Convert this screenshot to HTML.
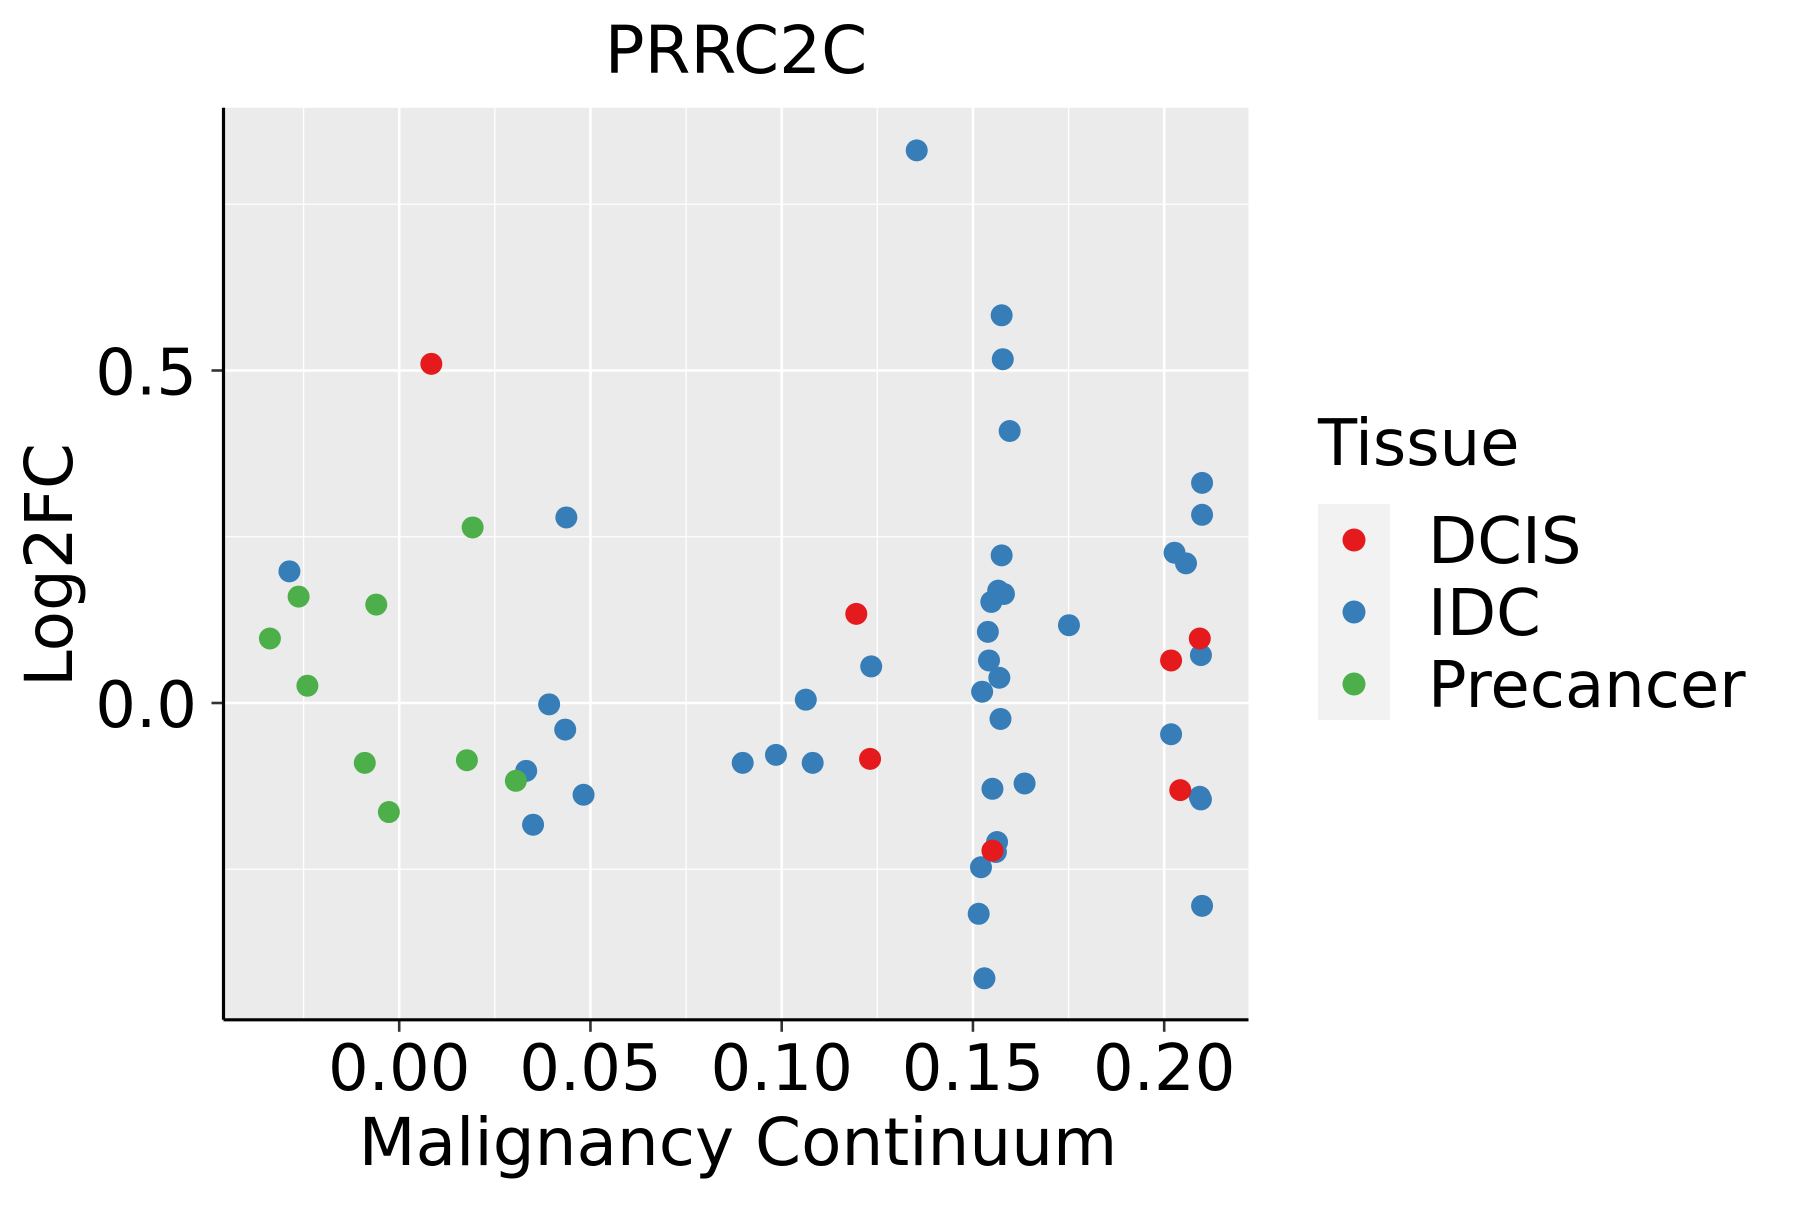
<!DOCTYPE html>
<html><head><meta charset="utf-8"><style>
body{margin:0;background:#fff}
svg text{font-family:"DejaVu Sans","Liberation Sans",sans-serif;fill:#000}
</style></head><body>
<svg id="chart" width="1800" height="1200" xmlns="http://www.w3.org/2000/svg">
<text x="736" y="73" font-size="66" text-anchor="middle">PRRC2C</text>
<rect x="223.5" y="107.8" width="1025" height="912" fill="#ebebeb"/>
<g id="grid"></g>
<g id="points"></g>
<g id="axes"></g>
<text x="738" y="1165" font-size="66" text-anchor="middle">Malignancy Continuum</text>
<text transform="translate(72,565) rotate(-90)" font-size="66" text-anchor="middle">Log2FC</text>
<g>
<text x="1318" y="465" font-size="64">Tissue</text>
<rect x="1318" y="504" width="72" height="216" fill="#f2f2f2"/>
<g><circle cx="1354" cy="540" r="11.5" fill="#e41a1c"/><text x="1428" y="563" font-size="64">DCIS</text></g>
<g><circle cx="1354" cy="612" r="11.5" fill="#377eb8"/><text x="1428" y="635" font-size="64">IDC</text></g>
<g><circle cx="1354" cy="684" r="11.5" fill="#4daf4a"/><text x="1428" y="707" font-size="64">Precancer</text></g>
</g>
</svg>
<script>
const xTicks=[0,0.05,0.10,0.15,0.20];
const xTickLabels=["0.00","0.05","0.10","0.15","0.20"];
const xMinor=[-0.025,0.025,0.075,0.125,0.175];
const yTicks=[0,0.5];
const yTickLabels=["0.0","0.5"];
const yMinor=[-0.25,0.25,0.75];
const idcX=[0.1353,0.1575,0.1578,0.1596,0.2099,0.2099,0.0437,0.1575,0.2027,0.2057,-0.0287,0.1566,0.1581,0.1548,0.1751,0.1539,0.1234,0.1542,0.2096,0.1569,0.1524,0.1063,0.0392,0.1572,0.0434,0.2018,0.0985,0.0898,0.1081,0.0332,0.1635,0.1551,0.0482,0.2096,0.2093,0.0350,0.1563,0.1560,0.1521,0.1515,0.2099,0.1530];
const idcY=[0.831,0.583,0.517,0.409,0.331,0.283,0.279,0.222,0.226,0.210,0.198,0.169,0.164,0.152,0.117,0.107,0.055,0.064,0.072,0.038,0.017,0.005,-0.002,-0.024,-0.040,-0.047,-0.078,-0.090,-0.090,-0.102,-0.121,-0.129,-0.138,-0.145,-0.141,-0.183,-0.209,-0.224,-0.247,-0.317,-0.305,-0.414];
const preX=[0.0192,-0.0263,-0.0060,-0.0338,-0.0240,-0.0090,0.0177,0.0305,-0.0027];
const preY=[0.264,0.160,0.148,0.097,0.026,-0.090,-0.086,-0.117,-0.164];
const dcisX=[0.0084,0.1195,0.2093,0.2018,0.1231,0.2042,0.1551];
const dcisY=[0.510,0.134,0.097,0.064,-0.084,-0.131,-0.222];

const NS="http://www.w3.org/2000/svg";
const PL=223.5,PR=1248.5,PT=107.8,PB=1019.8;
function sx(v){return 399.2+v*3825;}
function sy(v){return 703+v*-665;}
function mk(tag,attrs,parent){const e=document.createElementNS(NS,tag);for(const k in attrs)e.setAttribute(k,attrs[k]);parent.appendChild(e);return e;}
const grid=document.getElementById('grid'),pts=document.getElementById('points'),axes=document.getElementById('axes');
xMinor.forEach(v=>{const l=mk('line',{x1:sx(v),x2:sx(v),y1:PT,y2:PB,stroke:'#fff','stroke-width':1.3},grid);

});
yMinor.forEach(v=>{const l=mk('line',{x1:PL,x2:PR,y1:sy(v),y2:sy(v),stroke:'#fff','stroke-width':1.3},grid);

});
xTicks.forEach((v,i)=>{const l=mk('line',{x1:sx(v),x2:sx(v),y1:PT,y2:PB,stroke:'#fff','stroke-width':2.6},grid);


const t=mk('line',{x1:sx(v),x2:sx(v),y1:PB,y2:PB+12,stroke:'#333','stroke-width':2.6},axes);


const tx=mk('text',{x:sx(v),y:1090,'font-size':64,'text-anchor':'middle'},axes);tx.textContent=xTickLabels[i];

});
yTicks.forEach((v,i)=>{const l=mk('line',{x1:PL,x2:PR,y1:sy(v),y2:sy(v),stroke:'#fff','stroke-width':2.6},grid);


const t=mk('line',{x1:PL-12,x2:PL,y1:sy(v),y2:sy(v),stroke:'#333','stroke-width':2.6},axes);


const tx=mk('text',{x:197,y:sy(v)+24,'font-size':64,'text-anchor':'end'},axes);tx.textContent=yTickLabels[i];

});
const xa=mk('line',{x1:PL,x2:PR,y1:PB,y2:PB,stroke:'#000','stroke-width':3.2},axes);


const ya=mk('line',{x1:PL,x2:PL,y1:PT,y2:PB,stroke:'#000','stroke-width':3.2},axes);


function drawSeries(xs,ys,color,name){xs.forEach((v,i)=>{const c=mk('circle',{cx:sx(v),cy:sy(ys[i]),r:11,fill:color},pts);

});}
drawSeries(idcX,idcY,'#377eb8','point-idc');
drawSeries(preX,preY,'#4daf4a','point-precancer');
drawSeries(dcisX,dcisY,'#e41a1c','point-dcis');
</script>
</body></html>
